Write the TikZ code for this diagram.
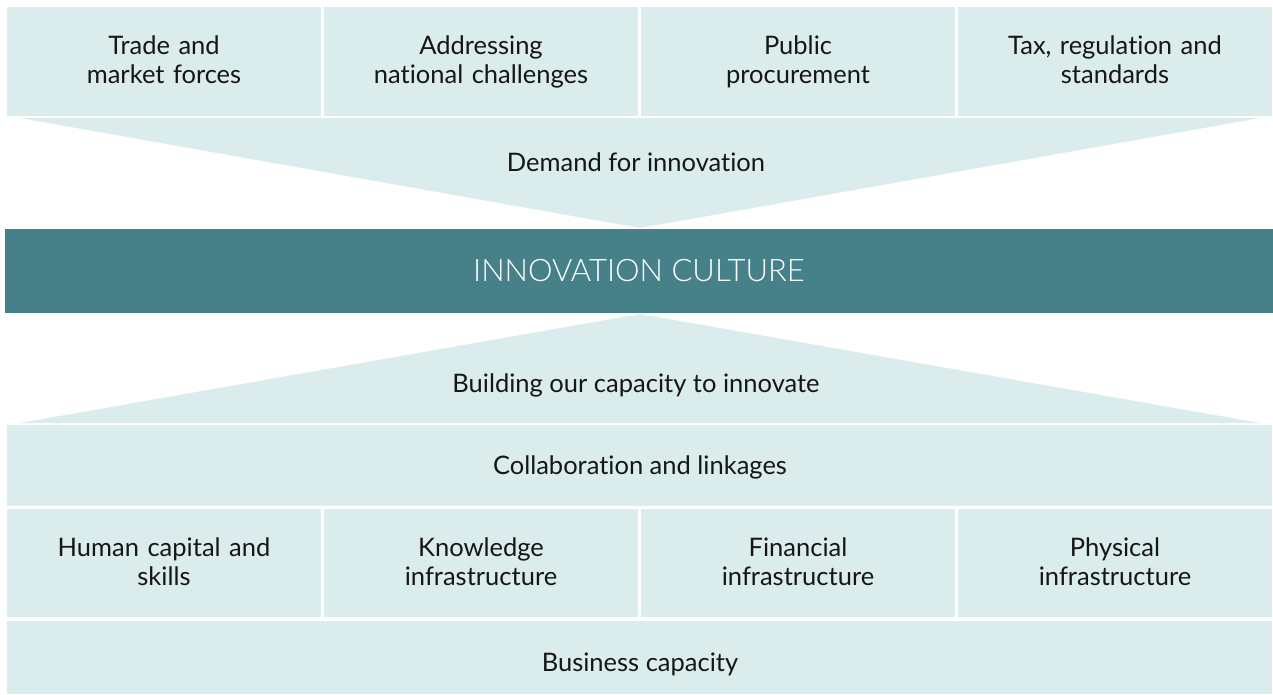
\documentclass[tikz,border=0pt]{standalone}
\usepackage{fontspec}
\setmainfont{Lato}[Ligatures=NoCommon]
\newfontfamily\thinfont{Lato Light}[Ligatures=NoCommon]
\definecolor{paleteal}{HTML}{DBECEC}
\definecolor{deepteal}{HTML}{46818A}
\definecolor{ink}{HTML}{161616}
% a taller strut on the first line nudges two-line labels a little lower in their cells
\newcommand{\cellstrut}{\rule{0pt}{24.3pt}}
\begin{document}
\begin{tikzpicture}[x=1pt,y=-1pt,
  cell/.style={fill=paleteal,draw=none,inner sep=0pt,align=center,text=ink,
    font=\fontsize{25.5}{29}\selectfont,text width=300pt},
  lbl/.style={text=ink,font=\fontsize{25.5}{29}\selectfont,inner sep=0pt}]
\useasboundingbox (0,0) rectangle (1273,694);
\fill[white] (0,0) rectangle (1273,694);

% demand side: four drivers
\node[cell, minimum width=314pt, minimum height=109pt] (trade) at (164,61.5) {\cellstrut Trade and\\market forces\strut};
\node[cell, minimum width=314pt, minimum height=109pt] (challenges) at (481,61.5) {\cellstrut Addressing\\national challenges\strut};
\node[cell, minimum width=314pt, minimum height=109pt] (procure) at (798,61.5) {\cellstrut Public\\procurement\strut};
\node[cell, minimum width=314pt, minimum height=109pt] (tax) at (1115,61.5) {\cellstrut Tax, regulation and\\standards\strut};

% funnel pointing down
\coordinate (dl) at (20,118);
\coordinate (dr) at (1260,118);
\coordinate (dtip) at (640,228);
\fill[paleteal] (dl) -- (dr) -- (dtip) -- cycle;
\node[lbl] (demand) at (636,162.5) {Demand for innovation};

% central band
\node[fill=deepteal,inner sep=0pt,minimum width=1268pt,minimum height=84pt,
  text=white,font=\thinfont\fontsize{31}{36}\selectfont] (culture) at (639,271) {INNOVATION CULTURE};

% funnel pointing up
\coordinate (ul) at (20,423);
\coordinate (ur) at (1260,423);
\coordinate (utip) at (640,314);
\fill[paleteal] (ul) -- (ur) -- (utip) -- cycle;
\node[lbl] (capacity) at (636,385.5) {Building our capacity to innovate};

% supply side
\node[fill=paleteal, minimum width=1265pt, minimum height=81pt, inner sep=0pt] (collab) at (639.5,465.5) {};
\node[lbl] (collabtext) at (640,467) {Collaboration and linkages};

\node[cell, minimum width=314pt, minimum height=108pt] (human) at (164,563) {\cellstrut Human capital and\\skills\strut};
\node[cell, minimum width=314pt, minimum height=108pt] (knowledge) at (481,563) {\cellstrut Knowledge\\infrastructure\strut};
\node[cell, minimum width=314pt, minimum height=108pt] (financial) at (798,563) {\cellstrut Financial\\infrastructure\strut};
\node[cell, minimum width=314pt, minimum height=108pt] (physical) at (1115,563) {\cellstrut Physical\\infrastructure\strut};

\node[fill=paleteal, minimum width=1265pt, minimum height=73pt, inner sep=0pt] (business) at (639.5,657.5) {};
\node[lbl] (businesstext) at (640,664) {Business capacity};
\end{tikzpicture}
\end{document}
